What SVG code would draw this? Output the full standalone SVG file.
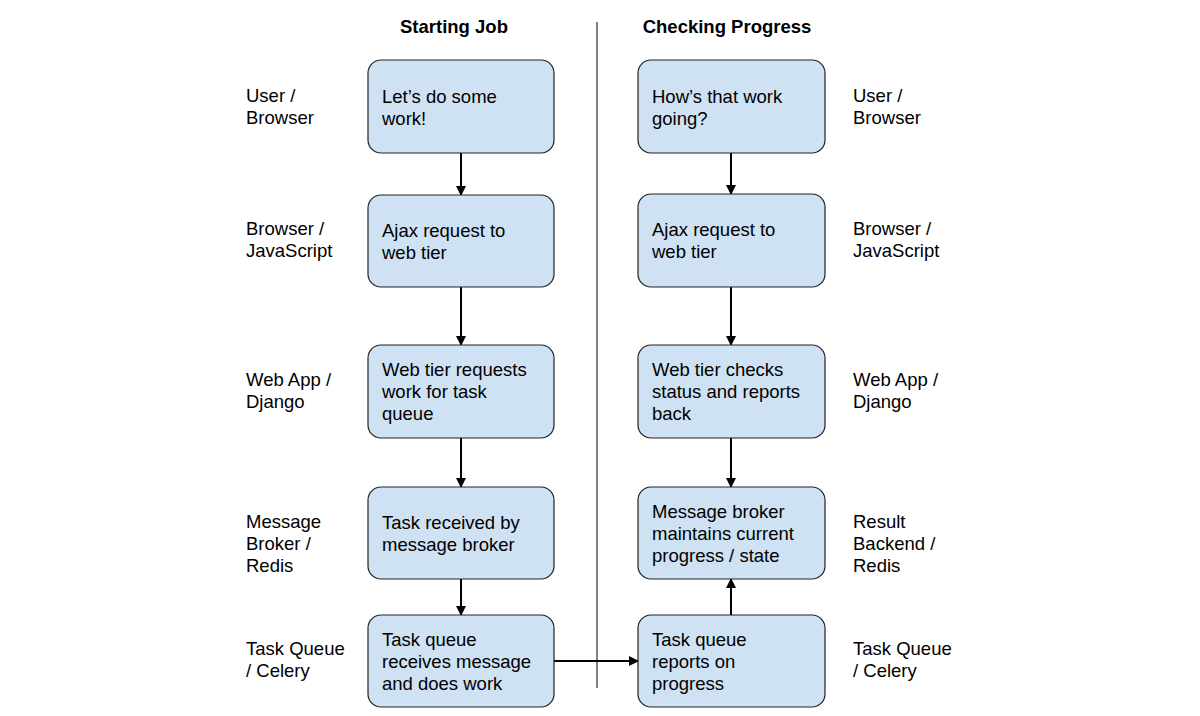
<svg xmlns="http://www.w3.org/2000/svg" width="1200" height="716" viewBox="0 0 1200 716">
<style>
.n{fill:#cfe2f3;stroke:#222;stroke-width:1.2}
.t{font-family:"Liberation Sans",Arial,sans-serif;font-size:18.5px;fill:#000}
.h{font-family:"Liberation Sans",Arial,sans-serif;font-size:18.5px;font-weight:bold;fill:#000}
.c{stroke:#000;stroke-width:2;fill:none}
</style>
<defs>
<marker id="ah" markerWidth="10" markerHeight="10" refX="9" refY="5" orient="auto" markerUnits="userSpaceOnUse">
<path d="M0,0 L10,5 L0,10 z" fill="#000"/>
</marker>
</defs>
<rect width="1200" height="716" fill="#fff"/>
<text class="h" x="454" y="33" text-anchor="middle">Starting Job</text>
<text class="h" x="727" y="33" text-anchor="middle">Checking Progress</text>
<line x1="597" y1="22" x2="597" y2="688" stroke="#000" stroke-width="1"/>
<g id="labels">
<text class="t" x="246" y="102">User /</text><text class="t" x="246" y="124">Browser</text>
<text class="t" x="246" y="235">Browser /</text><text class="t" x="246" y="257">JavaScript</text>
<text class="t" x="246" y="386">Web App /</text><text class="t" x="246" y="408">Django</text>
<text class="t" x="246" y="528">Message</text><text class="t" x="246" y="550">Broker /</text><text class="t" x="246" y="572">Redis</text>
<text class="t" x="246" y="655">Task Queue</text><text class="t" x="246" y="677">/ Celery</text>
<text class="t" x="853" y="102">User /</text><text class="t" x="853" y="124">Browser</text>
<text class="t" x="853" y="235">Browser /</text><text class="t" x="853" y="257">JavaScript</text>
<text class="t" x="853" y="386">Web App /</text><text class="t" x="853" y="408">Django</text>
<text class="t" x="853" y="528">Result</text><text class="t" x="853" y="550">Backend /</text><text class="t" x="853" y="572">Redis</text>
<text class="t" x="853" y="655">Task Queue</text><text class="t" x="853" y="677">/ Celery</text>
</g>
<g id="connectors">
<line class="c" x1="461" y1="153" x2="461" y2="195" marker-end="url(#ah)"/>
<line class="c" x1="461" y1="287" x2="461" y2="345" marker-end="url(#ah)"/>
<line class="c" x1="461" y1="438" x2="461" y2="487" marker-end="url(#ah)"/>
<line class="c" x1="461" y1="579" x2="461" y2="615" marker-end="url(#ah)"/>
<line class="c" x1="554" y1="661" x2="638" y2="661" marker-end="url(#ah)"/>
<line class="c" x1="731" y1="153" x2="731" y2="194" marker-end="url(#ah)"/>
<line class="c" x1="731" y1="287" x2="731" y2="345" marker-end="url(#ah)"/>
<line class="c" x1="731" y1="438" x2="731" y2="487" marker-end="url(#ah)"/>
<line class="c" x1="731" y1="615" x2="731" y2="579" marker-end="url(#ah)"/>
</g>
<g id="l1"><rect class="n" x="368" y="60" width="186" height="93" rx="13"/><text class="t" x="382" y="103">Let’s do some</text><text class="t" x="382" y="125">work!</text></g>
<g id="l2"><rect class="n" x="368" y="195" width="186" height="92" rx="13"/><text class="t" x="382" y="237">Ajax request to</text><text class="t" x="382" y="259">web tier</text></g>
<g id="l3"><rect class="n" x="368" y="345" width="186" height="93" rx="13"/><text class="t" x="382" y="376">Web tier requests</text><text class="t" x="382" y="398">work for task</text><text class="t" x="382" y="420">queue</text></g>
<g id="l4"><rect class="n" x="368" y="487" width="186" height="92" rx="13"/><text class="t" x="382" y="529">Task received by</text><text class="t" x="382" y="551">message broker</text></g>
<g id="l5"><rect class="n" x="368" y="615" width="186" height="92" rx="13"/><text class="t" x="382" y="646">Task queue</text><text class="t" x="382" y="668">receives message</text><text class="t" x="382" y="690">and does work</text></g>
<g id="r1"><rect class="n" x="638" y="60" width="187" height="93" rx="13"/><text class="t" x="652" y="103">How’s that work</text><text class="t" x="652" y="125">going?</text></g>
<g id="r2"><rect class="n" x="638" y="194" width="187" height="93" rx="13"/><text class="t" x="652" y="236">Ajax request to</text><text class="t" x="652" y="258">web tier</text></g>
<g id="r3"><rect class="n" x="638" y="345" width="187" height="93" rx="13"/><text class="t" x="652" y="376">Web tier checks</text><text class="t" x="652" y="398">status and reports</text><text class="t" x="652" y="420">back</text></g>
<g id="r4"><rect class="n" x="638" y="487" width="187" height="92" rx="13"/><text class="t" x="652" y="518">Message broker</text><text class="t" x="652" y="540">maintains current</text><text class="t" x="652" y="562">progress / state</text></g>
<g id="r5"><rect class="n" x="638" y="615" width="187" height="92" rx="13"/><text class="t" x="652" y="646">Task queue</text><text class="t" x="652" y="668">reports on</text><text class="t" x="652" y="690">progress</text></g>
</svg>
